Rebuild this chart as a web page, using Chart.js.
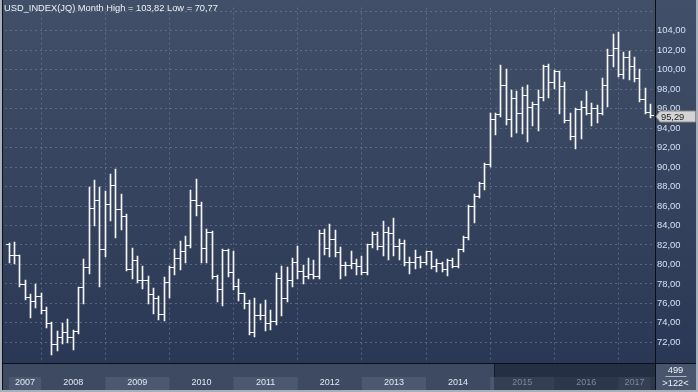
<!DOCTYPE html>
<html>
<head>
<meta charset="utf-8">
<script src="https://cdn.jsdelivr.net/npm/chart.js@4.4.1/dist/chart.umd.min.js"></script>
<style>
  html, body { margin: 0; padding: 0; background: #3e4a62; }
  #wrap { width: 698px; height: 392px; }
</style>
</head>
<body>
<div id="wrap"><canvas id="usdChart" width="698" height="392"></canvas></div>
<script>
const months = [
  "2007-07","2007-08","2007-09","2007-10","2007-11","2007-12",
  "2008-01","2008-02","2008-03","2008-04","2008-05","2008-06","2008-07","2008-08","2008-09","2008-10","2008-11","2008-12",
  "2009-01","2009-02","2009-03","2009-04","2009-05","2009-06","2009-07","2009-08","2009-09","2009-10","2009-11","2009-12",
  "2010-01","2010-02","2010-03","2010-04","2010-05","2010-06","2010-07","2010-08","2010-09","2010-10","2010-11","2010-12",
  "2011-01","2011-02","2011-03","2011-04","2011-05","2011-06","2011-07","2011-08","2011-09","2011-10","2011-11","2011-12",
  "2012-01","2012-02","2012-03","2012-04","2012-05","2012-06","2012-07","2012-08","2012-09","2012-10","2012-11","2012-12",
  "2013-01","2013-02","2013-03","2013-04","2013-05","2013-06","2013-07","2013-08","2013-09","2013-10","2013-11","2013-12",
  "2014-01","2014-02","2014-03","2014-04","2014-05","2014-06","2014-07","2014-08","2014-09","2014-10","2014-11","2014-12",
  "2015-01","2015-02","2015-03","2015-04","2015-05","2015-06","2015-07","2015-08","2015-09","2015-10","2015-11","2015-12",
  "2016-01","2016-02","2016-03","2016-04","2016-05","2016-06","2016-07","2016-08","2016-09","2016-10","2016-11","2016-12",
  "2017-01","2017-02","2017-03","2017-04","2017-05","2017-06","2017-07"
];

const opens = [
  82.0, 80.9, 80.9, 77.9, 76.6, 76.2,
  76.7, 75.3, 73.9, 71.8, 72.5, 73.0, 72.5, 73.1, 77.6, 79.7, 85.7, 86.6,
  81.5, 86.2, 88.1, 85.6, 84.9, 79.5, 80.4, 78.4, 78.4, 76.9, 76.5, 74.9,
  78.1, 79.7, 80.6, 81.3, 81.9, 86.6, 86.1, 81.6, 83.3, 78.75, 77.4, 81.4,
  79.2, 77.7, 77.0, 76.0, 73.0, 74.8, 74.8, 73.9, 74.1, 78.6, 76.5, 78.4,
  80.2, 79.3, 78.75, 79.0, 78.8, 83.2, 81.6, 82.6, 81.2, 79.9, 79.9, 80.1,
  79.8, 79.2, 82.0, 83.05, 81.8, 83.3, 83.2, 81.8, 82.1, 80.2, 80.2, 80.7,
  80.2, 81.3, 79.76, 80.1, 79.5, 80.4, 79.8, 81.5, 82.75, 86.0, 87.0, 88.3,
  90.3, 94.9, 95.4, 98.4, 94.85, 97.0, 95.5, 97.3, 96.1, 96.4, 97.1, 100.3,
  98.7, 99.8, 98.3, 94.8, 93.1, 95.9, 96.1, 95.5, 96.0, 95.5, 98.4, 101.5,
  102.2, 99.5, 101.2, 100.35, 99.05, 96.9, 95.6
];
const highs = [
  82.2, 82.3, 81.0, 78.4, 77.0, 78.0,
  77.1, 75.6, 74.1, 73.2, 74.0, 74.4, 73.3, 77.7, 80.6, 88.0, 88.7, 88.0,
  87.5, 89.3, 89.8, 87.2, 85.2, 81.7, 80.9, 79.8, 78.8, 77.6, 76.8, 78.75,
  79.8, 81.6, 82.4, 82.9, 87.65, 88.8, 86.4, 83.6, 83.4, 78.9, 81.6, 81.6,
  81.4, 78.5, 77.1, 76.4, 76.6, 75.9, 76.4, 75.3, 79.1, 79.8, 79.7, 80.7,
  81.9, 79.9, 80.7, 80.5, 83.5, 83.6, 84.2, 83.5, 81.8, 80.3, 81.4, 80.6,
  80.9, 82.1, 83.3, 83.3, 84.5, 83.8, 84.8, 82.6, 82.5, 80.8, 81.5, 80.9,
  81.4, 81.4, 80.6, 80.3, 80.6, 80.7, 81.6, 82.9, 86.1, 87.2, 88.5, 90.4,
  95.5, 95.5, 100.5, 100.1, 97.9, 97.8, 98.2, 98.4, 96.7, 97.9, 100.5, 100.6,
  100.0, 99.9, 98.7, 95.5, 96.1, 96.8, 97.8, 96.6, 96.4, 99.1, 102.1, 103.65,
  103.82, 101.8, 101.9, 101.3, 100.1, 98.1, 96.5
];
const lows = [
  80.2, 80.1, 77.8, 76.5, 74.6, 75.6,
  75.0, 73.6, 70.77, 71.2, 71.9, 72.0, 71.3, 73.0, 76.0, 79.1, 84.0, 77.8,
  80.9, 84.6, 82.8, 83.6, 79.4, 78.6, 78.2, 77.6, 76.0, 75.05, 74.4, 74.3,
  76.7, 79.0, 79.5, 80.2, 81.8, 85.1, 80.3, 80.2, 78.6, 76.2, 75.8, 78.8,
  77.5, 76.3, 75.5, 72.9, 72.7, 74.4, 73.3, 73.4, 73.9, 74.8, 76.2, 77.8,
  78.6, 78.1, 78.6, 78.6, 78.6, 81.1, 80.9, 80.9, 78.6, 78.9, 79.6, 79.0,
  79.0, 79.0, 81.8, 81.6, 81.0, 80.6, 81.0, 80.6, 79.9, 79.1, 79.6, 79.7,
  80.0, 79.6, 79.3, 79.3, 78.9, 79.7, 79.7, 81.4, 82.6, 84.4, 86.9, 87.7,
  90.1, 93.4, 95.2, 94.4, 93.2, 93.6, 93.5, 92.7, 94.3, 93.8, 96.9, 97.2,
  98.1, 95.5, 94.6, 92.9, 92.0, 93.0, 95.4, 94.3, 94.6, 95.4, 96.3, 100.4,
  99.3, 99.1, 99.0, 98.8, 96.8, 95.5, 95.1
];
const closes = [
  80.9, 80.9, 77.9, 76.6, 76.2, 76.7,
  75.3, 73.9, 71.8, 72.5, 73.0, 72.5, 73.1, 77.6, 79.7, 85.7, 86.6, 81.5,
  86.2, 88.1, 85.6, 84.9, 79.5, 80.4, 78.4, 78.4, 76.9, 76.5, 74.9, 78.1,
  79.7, 80.6, 81.3, 81.9, 86.6, 86.1, 81.6, 83.3, 78.75, 77.4, 81.4, 79.2,
  77.7, 77.0, 76.0, 73.0, 74.8, 74.8, 73.9, 74.1, 78.6, 76.5, 78.4, 80.2,
  79.3, 78.75, 79.0, 78.8, 83.2, 81.6, 82.6, 81.2, 79.9, 79.9, 80.1, 79.8,
  79.2, 82.0, 83.05, 81.8, 83.3, 83.2, 81.8, 82.1, 80.2, 80.2, 80.7, 80.2,
  81.3, 79.76, 80.1, 79.5, 80.4, 79.8, 81.5, 82.75, 86.0, 87.0, 88.3, 90.3,
  94.9, 95.4, 98.4, 94.85, 97.0, 95.5, 97.3, 96.1, 96.4, 97.1, 100.3, 98.7,
  99.8, 98.3, 94.8, 93.1, 95.9, 96.1, 95.5, 96.0, 95.5, 98.4, 101.5, 102.2,
  99.5, 101.2, 100.35, 99.05, 96.9, 95.6, 95.29
];

const yearLabels = ["2007","2008","2009","2010","2011","2012","2013","2014","2015","2016","2017"];
const priceTicks = [72, 74, 76, 78, 80, 82, 84, 86, 88, 90, 92, 94, 96, 98, 100, 102, 104];
const gridLevels = [70, 72, 74, 76, 78, 80, 82, 84, 86, 88, 90, 92, 94, 96, 98, 100, 102, 104, 106];

const titleText = "USD_INDEX(JQ) Month High = 103,82 Low = 70,77";
const cornerTop = "499";
const cornerBottom = ">122<";
const overviewFrom = 90.8; // start of the dimmed strip at the bottom

const fmt = (v) => v.toFixed(2).replace(".", ",");
const barColor = "#f6f6f6";
const gridColor = "rgba(118,136,166,0.55)";
const lastIdx = months.length - 1;

// where each year starts / ends along the month axis
const yearSpans = yearLabels.map((yr) => {
  const first = months.findIndex((m) => m.startsWith(yr));
  const nextFirst = months.findIndex((m) => m.startsWith(String(+yr + 1)));
  return [first, nextFirst === -1 ? lastIdx : nextFirst];
});
const yearStarts = yearSpans.map((s) => s[0]).filter((i) => months[i].endsWith("-01"));

// snap OHLC elements to whole pixels so the 1px lines stay crisp
const pixelSnap = {
  id: "pixelSnap",
  afterDatasetsUpdate(chart) {
    const bars = chart.getDatasetMeta(0).data;
    const opensMeta = chart.getDatasetMeta(1).data;
    const closesMeta = chart.getDatasetMeta(2).data;
    bars.forEach((el, i) => {
      const col = Math.floor(el.x);
      el.x = col + 0.5;
      el.y = Math.round(el.y);
      el.base = Math.round(el.base) + 1;
      opensMeta[i].x = col - 1.5;
      opensMeta[i].y = Math.floor(opensMeta[i].y) + 0.5;
      closesMeta[i].x = col + 2.5;
      closesMeta[i].y = Math.floor(closesMeta[i].y) + 0.5;
    });
  },
};

const terminalFrame = {
  id: "terminalFrame",
  beforeDraw(chart) {
    const { ctx, chartArea: a, scales } = chart;
    const x = scales.x;
    const W = chart.width, H = chart.height;
    ctx.save();
    const g = ctx.createLinearGradient(0, 0, 0, a.bottom);
    g.addColorStop(0, "#414f68");
    g.addColorStop(1, "#2b3855");
    ctx.fillStyle = g;
    ctx.fillRect(0, 0, W, a.bottom);

    ctx.fillStyle = "#3e4a62";
    ctx.fillRect(0, a.bottom, W, H - a.bottom);

    // alternating year shading
    yearSpans.forEach((s, k) => {
      if (k % 2) return;
      const x0 = x.getPixelForValue(s[0]);
      const x1 = x.getPixelForValue(s[1]);
      ctx.fillStyle = "#4b5870";
      ctx.fillRect(x0, a.bottom + 14, x1 - x0, 13);
    });

    // dimmed overview strip
    const s0 = Math.round(x.getPixelForValue(overviewFrom));
    ctx.fillStyle = "rgba(24,33,52,0.45)";
    ctx.fillRect(s0, a.bottom + 1, a.right - s0, 26);
    ctx.fillStyle = "rgba(24,33,52,0.35)";
    ctx.fillRect(s0, a.bottom + 1, a.right - s0, 13);
    ctx.fillStyle = "rgba(10,15,25,0.6)";
    ctx.fillRect(s0, a.bottom + 1, 1, 13);

    // corner box
    ctx.fillStyle = "#48556d";
    ctx.fillRect(a.right, a.bottom, W - a.right, H - a.bottom);
    ctx.restore();
  },
  afterDraw(chart) {
    const { ctx, chartArea: a, scales } = chart;
    const x = scales.x, y = scales.y;
    const W = chart.width, H = chart.height;
    ctx.save();

    // year labels
    ctx.font = '9px "Liberation Sans", Arial, sans-serif';
    ctx.textAlign = "center";
    ctx.textBaseline = "middle";
    yearSpans.forEach((s, k) => {
      const mid = (s[0] + s[1]) / 2;
      ctx.fillStyle = mid > overviewFrom ? "#7a869b" : "#e2e9f3";
      ctx.fillText(yearLabels[k], x.getPixelForValue(mid), a.bottom + 20);
    });

    // axis lines
    ctx.strokeStyle = "#0b0f17";
    ctx.lineWidth = 1;
    ctx.beginPath();
    ctx.moveTo(a.right + 0.5, 0);
    ctx.lineTo(a.right + 0.5, H);
    ctx.moveTo(2, a.bottom + 0.5);
    ctx.lineTo(W, a.bottom + 0.5);
    ctx.moveTo(2.5, 0);
    ctx.lineTo(2.5, H);
    ctx.stroke();

    // outer frame
    ctx.fillStyle = "#a7afbb";
    ctx.fillRect(0, 0, 2, H);
    ctx.fillRect(0, H - 2, W, 2);
    ctx.fillRect(W - 2, 0, 2, H);

    // title
    ctx.font = '9.3px "Liberation Sans", Arial, sans-serif';
    ctx.textAlign = "left";
    ctx.fillStyle = "#eef2f7";
    ctx.fillText(titleText, 4, 8);

    // last price box
    const py = Math.round(y.getPixelForValue(closes[lastIdx])) + 0.5;
    ctx.beginPath();
    ctx.moveTo(a.right + 1, py);
    ctx.lineTo(a.right + 5, py - 5.5);
    ctx.lineTo(W - 2.5, py - 5.5);
    ctx.lineTo(W - 2.5, py + 5.5);
    ctx.lineTo(a.right + 5, py + 5.5);
    ctx.closePath();
    ctx.fillStyle = "#d3d3d3";
    ctx.fill();
    ctx.strokeStyle = "#8c8c8c";
    ctx.stroke();
    ctx.fillStyle = "#1e1e1e";
    ctx.font = '9.3px "Liberation Sans", Arial, sans-serif';
    ctx.fillText(fmt(closes[lastIdx]), a.right + 6, py + 0.5);

    // corner counters
    const cx = (a.right + W - 2) / 2;
    ctx.textAlign = "center";
    ctx.fillStyle = "#eef2f7";
    ctx.fillText(cornerTop, cx, a.bottom + 7);
    ctx.fillText(cornerBottom, cx, a.bottom + 20);
    ctx.fillStyle = "#aab4c4";
    ctx.fillRect(cx - 10, a.bottom + 13, 21, 1);
    ctx.restore();
  },
};

const ctx = document.getElementById("usdChart").getContext("2d");
const usdChart = new Chart(ctx, {
  data: {
    datasets: [
      {
        type: "bar",
        label: "Range",
        data: months.map((m, i) => ({ x: i, y: [lows[i], highs[i]] })),
        backgroundColor: barColor,
        borderWidth: 0,
        barThickness: 1,
        grouped: false,
      },
      {
        type: "line",
        label: "Open",
        data: months.map((m, i) => ({ x: i - 0.26, y: opens[i] })),
        showLine: false,
        pointStyle: "line",
        pointRadius: 1.5,
        pointBorderWidth: 1,
        borderColor: barColor,
      },
      {
        type: "line",
        label: "Close",
        data: months.map((m, i) => ({ x: i + 0.26, y: closes[i] })),
        showLine: false,
        pointStyle: "line",
        pointRadius: 1.5,
        pointBorderWidth: 1,
        borderColor: barColor,
      },
    ],
  },
  options: {
    responsive: false,
    animation: false,
    devicePixelRatio: 1,
    layout: { padding: { left: 3, top: 1, right: 0, bottom: 29 } },
    plugins: {
      legend: { display: false },
      tooltip: { enabled: false },
    },
    scales: {
      x: {
        type: "linear",
        offset: false,
        min: -0.76,
        max: 120.84,
        afterBuildTicks: (s) => {
          s.ticks = yearStarts.map((v) => ({ value: v }));
        },
        afterFit: (s) => {
          s.height = 0;
        },
        ticks: { display: false },
        grid: { color: gridColor, drawTicks: false, lineWidth: 1, offset: false },
        border: { display: false, dash: [2, 3] },
      },
      y: {
        position: "right",
        min: 69.88,
        max: 106.37,
        afterBuildTicks: (s) => {
          s.ticks = gridLevels.map((v) => ({ value: v }));
        },
        afterFit: (s) => {
          s.width = 43;
        },
        ticks: {
          padding: 2,
          color: "#d3e0f2",
          font: { family: '"Liberation Sans", Arial, sans-serif', size: 9.4 },
          callback: (v) => (priceTicks.includes(v) ? fmt(v) : ""),
        },
        grid: {
          drawTicks: false,
          color: (c) => (c.tick && c.tick.value < 71 ? "rgba(0,0,0,0)" : gridColor),
        },
        border: { display: false, dash: [2, 3] },
      },
    },
  },
  plugins: [pixelSnap, terminalFrame],
});
</script>
</body>
</html>
